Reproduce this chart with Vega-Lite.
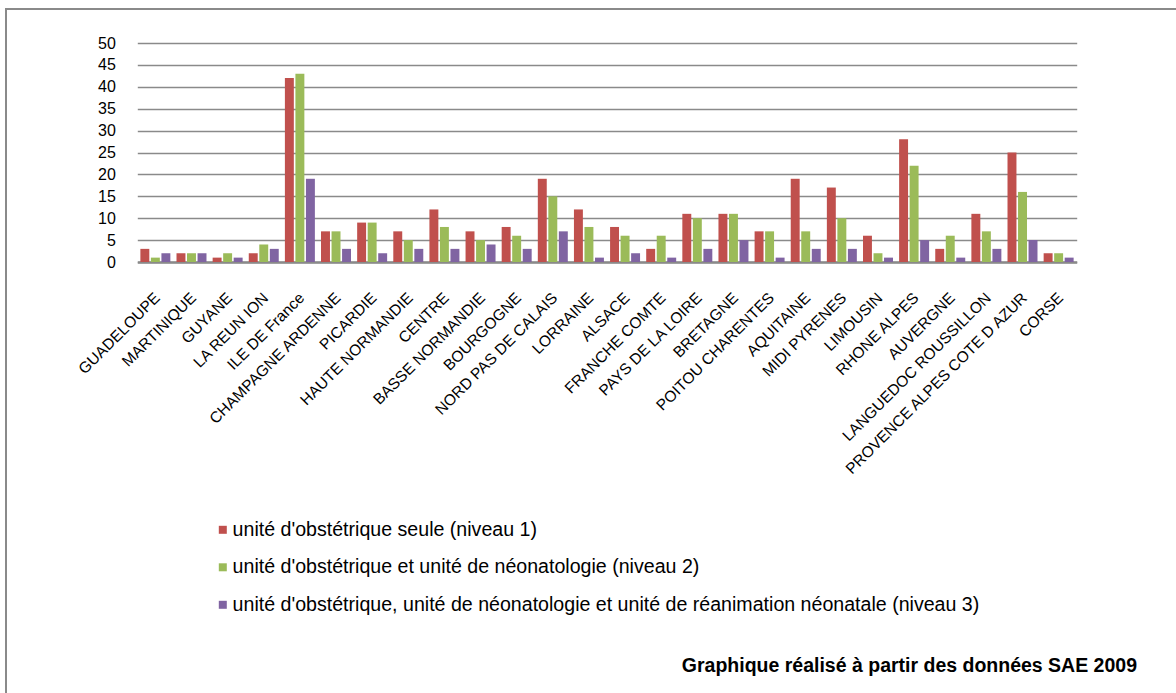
{
  "$schema": "https://vega.github.io/schema/vega-lite/v6.json",
  "autosize": {"type": "none"},
  "padding": {"left": 6, "top": 9, "right": 0, "bottom": 0},
  "width": 1170,
  "height": 684,
  "background": "white",
  "title": {
    "text": "Graphique réalisé à partir des données SAE 2009",
    "orient": "bottom",
    "anchor": "end",
    "frame": "group",
    "offset": -36,
    "dx": -39,
    "font": "Liberation Sans",
    "fontSize": 19.5,
    "fontWeight": "bold",
    "color": "#000000"
  },
  "config": {
    "view": {"stroke": "#8a8a8a", "strokeWidth": 2, "strokeDash": [1170, 1854, 684]},
    "font": "Liberation Sans"
  },
  "data": {
    "values": [
      {"region": "GUADELOUPE", "niveau": "n1", "n": 3},
      {"region": "GUADELOUPE", "niveau": "n2", "n": 1},
      {"region": "GUADELOUPE", "niveau": "n3", "n": 2},
      {"region": "MARTINIQUE", "niveau": "n1", "n": 2},
      {"region": "MARTINIQUE", "niveau": "n2", "n": 2},
      {"region": "MARTINIQUE", "niveau": "n3", "n": 2},
      {"region": "GUYANE", "niveau": "n1", "n": 1},
      {"region": "GUYANE", "niveau": "n2", "n": 2},
      {"region": "GUYANE", "niveau": "n3", "n": 1},
      {"region": "LA REUN ION", "niveau": "n1", "n": 2},
      {"region": "LA REUN ION", "niveau": "n2", "n": 4},
      {"region": "LA REUN ION", "niveau": "n3", "n": 3},
      {"region": "ILE DE France", "niveau": "n1", "n": 42},
      {"region": "ILE DE France", "niveau": "n2", "n": 43},
      {"region": "ILE DE France", "niveau": "n3", "n": 19},
      {"region": "CHAMPAGNE ARDENNE", "niveau": "n1", "n": 7},
      {"region": "CHAMPAGNE ARDENNE", "niveau": "n2", "n": 7},
      {"region": "CHAMPAGNE ARDENNE", "niveau": "n3", "n": 3},
      {"region": "PICARDIE", "niveau": "n1", "n": 9},
      {"region": "PICARDIE", "niveau": "n2", "n": 9},
      {"region": "PICARDIE", "niveau": "n3", "n": 2},
      {"region": "HAUTE NORMANDIE", "niveau": "n1", "n": 7},
      {"region": "HAUTE NORMANDIE", "niveau": "n2", "n": 5},
      {"region": "HAUTE NORMANDIE", "niveau": "n3", "n": 3},
      {"region": "CENTRE", "niveau": "n1", "n": 12},
      {"region": "CENTRE", "niveau": "n2", "n": 8},
      {"region": "CENTRE", "niveau": "n3", "n": 3},
      {"region": "BASSE NORMANDIE", "niveau": "n1", "n": 7},
      {"region": "BASSE NORMANDIE", "niveau": "n2", "n": 5},
      {"region": "BASSE NORMANDIE", "niveau": "n3", "n": 4},
      {"region": "BOURGOGNE", "niveau": "n1", "n": 8},
      {"region": "BOURGOGNE", "niveau": "n2", "n": 6},
      {"region": "BOURGOGNE", "niveau": "n3", "n": 3},
      {"region": "NORD PAS DE CALAIS", "niveau": "n1", "n": 19},
      {"region": "NORD PAS DE CALAIS", "niveau": "n2", "n": 15},
      {"region": "NORD PAS DE CALAIS", "niveau": "n3", "n": 7},
      {"region": "LORRAINE", "niveau": "n1", "n": 12},
      {"region": "LORRAINE", "niveau": "n2", "n": 8},
      {"region": "LORRAINE", "niveau": "n3", "n": 1},
      {"region": "ALSACE", "niveau": "n1", "n": 8},
      {"region": "ALSACE", "niveau": "n2", "n": 6},
      {"region": "ALSACE", "niveau": "n3", "n": 2},
      {"region": "FRANCHE COMTE", "niveau": "n1", "n": 3},
      {"region": "FRANCHE COMTE", "niveau": "n2", "n": 6},
      {"region": "FRANCHE COMTE", "niveau": "n3", "n": 1},
      {"region": "PAYS DE LA LOIRE", "niveau": "n1", "n": 11},
      {"region": "PAYS DE LA LOIRE", "niveau": "n2", "n": 10},
      {"region": "PAYS DE LA LOIRE", "niveau": "n3", "n": 3},
      {"region": "BRETAGNE", "niveau": "n1", "n": 11},
      {"region": "BRETAGNE", "niveau": "n2", "n": 11},
      {"region": "BRETAGNE", "niveau": "n3", "n": 5},
      {"region": "POITOU CHARENTES", "niveau": "n1", "n": 7},
      {"region": "POITOU CHARENTES", "niveau": "n2", "n": 7},
      {"region": "POITOU CHARENTES", "niveau": "n3", "n": 1},
      {"region": "AQUITAINE", "niveau": "n1", "n": 19},
      {"region": "AQUITAINE", "niveau": "n2", "n": 7},
      {"region": "AQUITAINE", "niveau": "n3", "n": 3},
      {"region": "MIDI PYRENES", "niveau": "n1", "n": 17},
      {"region": "MIDI PYRENES", "niveau": "n2", "n": 10},
      {"region": "MIDI PYRENES", "niveau": "n3", "n": 3},
      {"region": "LIMOUSIN", "niveau": "n1", "n": 6},
      {"region": "LIMOUSIN", "niveau": "n2", "n": 2},
      {"region": "LIMOUSIN", "niveau": "n3", "n": 1},
      {"region": "RHONE ALPES", "niveau": "n1", "n": 28},
      {"region": "RHONE ALPES", "niveau": "n2", "n": 22},
      {"region": "RHONE ALPES", "niveau": "n3", "n": 5},
      {"region": "AUVERGNE", "niveau": "n1", "n": 3},
      {"region": "AUVERGNE", "niveau": "n2", "n": 6},
      {"region": "AUVERGNE", "niveau": "n3", "n": 1},
      {"region": "LANGUEDOC ROUSSILLON", "niveau": "n1", "n": 11},
      {"region": "LANGUEDOC ROUSSILLON", "niveau": "n2", "n": 7},
      {"region": "LANGUEDOC ROUSSILLON", "niveau": "n3", "n": 3},
      {"region": "PROVENCE ALPES  COTE D AZUR", "niveau": "n1", "n": 25},
      {"region": "PROVENCE ALPES  COTE D AZUR", "niveau": "n2", "n": 16},
      {"region": "PROVENCE ALPES  COTE D AZUR", "niveau": "n3", "n": 5},
      {"region": "CORSE", "niveau": "n1", "n": 2},
      {"region": "CORSE", "niveau": "n2", "n": 2},
      {"region": "CORSE", "niveau": "n3", "n": 1}
    ]
  },
  "mark": {"type": "bar"},
  "encoding": {
    "x": {
      "field": "region",
      "type": "nominal",
      "sort": null,
      "scale": {"range": [131.3, 1070.7], "paddingInner": 0.17, "paddingOuter": 0.085, "round": false},
      "axis": {
        "title": null,
        "orient": "bottom",
        "offset": -431,
        "ticks": false,
        "domain": true,
        "domainColor": "#8a8a8a",
        "domainWidth": 2.5,
        "labelAngle": -45,
        "labelAlign": "right",
        "labelBaseline": "top",
        "labelPadding": 28,
        "labelOffset": -3,
        "labelFontSize": 15.5,
        "labelColor": "#000000",
        "labelLimit": 0,
        "labelOverlap": false,
        "labelBound": false
      }
    },
    "xOffset": {
      "field": "niveau",
      "type": "nominal",
      "sort": null,
      "scale": {"paddingInner": 0.15, "paddingOuter": 0, "round": false}
    },
    "y": {
      "field": "n",
      "type": "quantitative",
      "scale": {"domain": [-98.4, 57.763], "nice": false, "zero": false},
      "axis": {
        "title": null,
        "values": [0, 5, 10, 15, 20, 25, 30, 35, 40, 45, 50],
        "offset": -131.3,
        "ticks": false,
        "domain": false,
        "grid": true,
        "gridColor": "#8a8a8a",
        "gridWidth": 1.6,
        "labelPadding": 22,
        "labelFontSize": 16,
        "labelColor": "#000000"
      }
    },
    "color": {
      "field": "niveau",
      "type": "nominal",
      "scale": {
        "domain": ["n1", "n2", "n3"],
        "range": ["#C0504D", "#9BBB59", "#8064A2"]
      },
      "legend": {
        "title": null,
        "orient": "none",
        "legendX": 207,
        "legendY": 511,
        "padding": 0,
        "symbolType": "square",
        "symbolSize": 64,
        "symbolStrokeWidth": 0,
        "labelOffset": 0,
        "labelFontSize": 19.6,
        "labelColor": "#000000",
        "labelLimit": 0,
        "rowPadding": 16.5,
        "labelExpr": "datum.value === 'n1' ? \"unité d'obstétrique seule (niveau 1)\" : datum.value === 'n2' ? \"unité d'obstétrique et  unité de néonatologie (niveau 2)\" : \"unité d'obstétrique, unité de néonatologie et  unité de réanimation néonatale (niveau 3)\""
      }
    }
  }
}
